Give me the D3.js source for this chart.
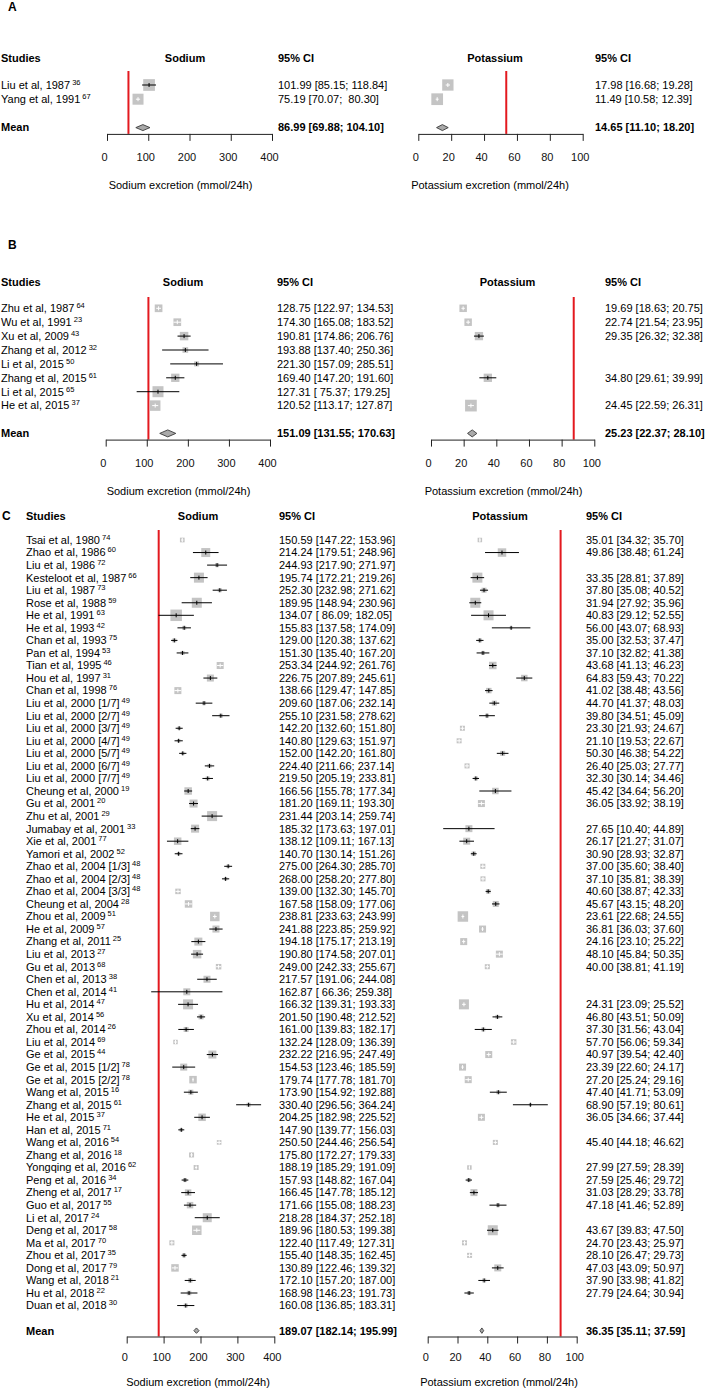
<!DOCTYPE html>
<html><head><meta charset="utf-8">
<script src="https://cdn.jsdelivr.net/npm/d3@7"></script>
<style>
html,body{margin:0;padding:0;background:#fff;}
svg text{font-family:"Liberation Sans", Arial, sans-serif; white-space:pre;}
</style></head>
<body><svg id="chart" width="709" height="1389" xml:space="preserve"></svg>
<script>
// ---------------- DATA ----------------
const naTicks = [0, 100, 200, 300, 400];
const kTicks = [0, 20, 40, 60, 80, 100];

// Panel A
const studiesA = ["Liu et al, 1987", "Yang et al, 1991"];
const refsA = ["36", "67"];
const naMeanA = [101.99, 75.19];
const naLowA = [85.15, 70.07];
const naUpA = [118.84, 80.30];
const naWeightA = [137, 121];
const kMeanA = [17.98, 11.49];
const kLowA = [16.68, 10.58];
const kUpA = [19.28, 12.39];
const kWeightA = [128, 137];
const naPooledA = [86.99, 69.88, 104.10];
const kPooledA = [14.65, 11.10, 18.20];
const naRefA = 52, kRefA = 53.5;

// Panel B
const studiesB = ["Zhu et al, 1987", "Wu et al, 1991", "Xu et al, 2009", "Zhang et al, 2012",
  "Li et al, 2015", "Zhang et al, 2015", "Li et al, 2015", "He et al, 2015"];
const refsB = ["64", "23", "43", "32", "50", "61", "65", "37"];
const naMeanB = [128.75, 174.30, 190.81, 193.88, 221.30, 169.40, 127.31, 120.52];
const naLowB = [122.97, 165.08, 174.86, 137.40, 157.09, 147.20, 75.37, 113.17];
const naUpB = [134.53, 183.52, 206.76, 250.36, 285.51, 191.60, 179.25, 127.87];
const naWeightB = [59, 59, 72, 32, 25, 69, 121, 110];
const kMeanB = [19.69, 22.74, 29.35, null, null, 34.80, null, 24.45];
const kLowB = [18.63, 21.54, 26.32, null, null, 29.61, null, 22.59];
const kUpB = [20.75, 23.95, 32.38, null, null, 39.99, null, 26.31];
const kWeightB = [56, 56, 69, null, null, 69, null, 137];
const naPooledB = [151.09, 131.55, 170.63];
const kPooledB = [25.23, 22.37, 28.10];
const naRefB = 104, kRefB = 87.4;

// Panel C
const studiesC = ["Tsai et al, 1980","Zhao et al, 1986","Liu et al, 1986","Kesteloot et al, 1987","Liu et al, 1987",
  "Rose et al, 1988","He et al, 1991","He et al, 1993","Chan et al, 1993","Pan et al, 1994","Tian et al, 1995",
  "Hou et al, 1997","Chan et al, 1998","Liu et al, 2000 [1/7]","Liu et al, 2000 [2/7]","Liu et al, 2000 [3/7]",
  "Liu et al, 2000 [4/7]","Liu et al, 2000 [5/7]","Liu et al, 2000 [6/7]","Liu et al, 2000 [7/7]",
  "Cheung et al, 2000","Gu et al, 2001","Zhu et al, 2001","Jumabay et al, 2001","Xie et al, 2001",
  "Yamori et al, 2002","Zhao et al, 2004 [1/3]","Zhao et al, 2004 [2/3]","Zhao et al, 2004 [3/3]",
  "Cheung et al, 2004","Zhou et al, 2009","He et al, 2009","Zhang et al, 2011","Liu et al, 2013","Gu et al, 2013",
  "Chen et al, 2013","Chen et al, 2014","Hu et al, 2014","Xu et al, 2014","Zhou et al, 2014","Liu et al, 2014",
  "Ge et al, 2015","Ge et al, 2015 [1/2]","Ge et al, 2015 [2/2]","Wang et al, 2015","Zhang et al, 2015",
  "He et al, 2015","Han et al, 2015","Wang et al, 2016","Zhang et al, 2016","Yongqing et al, 2016",
  "Peng et al, 2016","Zheng et al, 2017","Guo et al, 2017","Li et al, 2017","Deng et al, 2017","Ma et al, 2017",
  "Zhou et al, 2017","Dong et al, 2017","Wang et al, 2018","Hu et al, 2018","Duan et al, 2018"];
const refsC = ["74","60","72","66","73","59","63","42","75","53","46","31","76","49","49","49","49","49","49","49",
  "19","20","29","33","77","52","48","48","48","28","51","57","25","27","68","38","41","47","56","26","69","44",
  "78","78","16","61","37","71","54","18","62","34","17","55","24","58","70","35","79","21","22","30"];
const naMeanC = [150.59,214.24,244.93,195.74,252.30,189.95,134.07,155.83,129.00,151.30,253.34,226.75,138.66,
  209.60,255.10,142.20,140.80,152.00,224.40,219.50,166.56,181.20,231.44,185.32,138.12,140.70,275.00,268.00,
  139.00,167.58,238.81,241.88,194.18,190.80,249.00,217.57,162.87,166.32,201.50,161.00,132.24,232.22,154.53,
  179.74,173.90,330.40,204.25,147.90,250.50,175.80,188.19,157.93,166.45,171.66,218.28,189.96,122.40,155.40,
  130.89,172.10,168.98,160.08];
const naLowC = [147.22,179.51,217.90,172.21,232.98,148.94,86.09,137.58,120.38,135.40,244.92,207.89,129.47,
  187.06,231.58,132.60,129.63,142.20,211.66,205.19,155.78,169.11,203.14,173.63,109.11,130.14,264.30,258.20,
  132.30,158.09,233.63,223.85,175.17,174.58,242.33,191.06,66.36,139.31,190.48,139.83,128.09,216.95,123.46,
  177.78,154.92,296.56,182.98,139.77,244.46,172.27,185.29,148.82,147.78,155.08,184.37,180.53,117.49,148.35,
  122.46,157.20,146.23,136.85];
const naUpC = [153.96,248.96,271.97,219.26,271.62,230.96,182.05,174.09,137.62,167.20,261.76,245.61,147.85,
  232.14,278.62,151.80,151.97,161.80,237.14,233.81,177.34,193.30,259.74,197.01,167.13,151.26,285.70,277.80,
  145.70,177.06,243.99,259.92,213.19,207.01,255.67,244.08,259.38,193.33,212.52,182.17,136.39,247.49,185.59,
  181.70,192.88,364.24,225.52,156.03,256.54,179.33,191.09,167.04,185.12,188.23,252.18,199.38,127.31,162.45,
  139.32,187.00,191.73,183.31];
const naWeightC = [22,81,16,100,16,100,132,16,16,16, 49,49,49,16,16,12,12,12,16,16,
  56,64,100,64,56,12,12,12,30,56, 90,49,64,72,30,49,49,100,25,25,
  20,64,49,56,25,16,56,12,21,25, 25,16,42,42,81,90,25,16,56,20, 20,16];
const kMeanC = [35.01,49.86,null,33.35,37.80,31.94,40.83,56.00,35.00,37.10,43.68,64.83,41.02,44.70,39.80,23.30,
  21.10,50.30,26.40,32.30,45.42,36.05,null,27.65,26.17,30.90,37.00,37.10,40.60,45.67,23.61,36.81,24.16,48.10,
  40.00,null,null,24.31,46.80,37.30,57.70,40.97,23.39,27.20,47.40,68.90,36.05,null,45.40,null,27.99,27.59,31.03,
  47.18,null,43.67,24.70,28.10,47.03,37.90,27.79,null];
const kLowC = [34.32,38.48,null,28.81,35.08,27.92,29.12,43.07,32.53,32.82,41.13,59.43,38.48,41.37,34.51,21.93,
  19.53,46.38,25.03,30.14,34.64,33.92,null,10.40,21.27,28.93,35.60,35.81,38.87,43.15,22.68,36.03,23.10,45.84,
  38.81,null,null,23.09,43.51,31.56,56.06,39.54,22.60,25.24,41.71,57.19,34.66,null,44.18,null,27.59,25.46,28.29,
  41.46,null,39.83,23.43,26.47,43.09,33.98,24.64,null];
const kUpC = [35.70,61.24,null,37.89,40.52,35.96,52.55,68.93,37.47,41.38,46.23,70.22,43.56,48.03,45.09,24.67,
  22.67,54.22,27.77,34.46,56.20,38.19,null,44.89,31.07,32.87,38.40,38.39,42.33,48.20,24.55,37.60,25.22,50.35,
  41.19,null,null,25.52,50.09,43.04,59.34,42.40,24.17,29.16,53.09,80.61,37.44,null,46.62,null,28.39,29.72,33.78,
  52.89,null,47.50,25.97,29.73,50.97,41.82,30.94,null];
const kWeightC = [20,72,null,100,25,100,100,9,16,16, 56,42,30,25,16,25,25,25,25,16,
  42,49,null,49,49,20,25,25,20,36, 110,49,49,49,25,null,null,100,16,16,
  30,49,49,49,16,9,49,null,25,null, 20,16,49,16,null,100,25,25,49,16, 16,null];
const naPooledC = [189.07, 182.14, 195.99];
const kPooledC = [36.35, 35.11, 37.59];
const naRefC = 86.7, kRefC = 89.2;

// ---------------- DRAWING ----------------
const FONT = 11;
const boxFill = "#c4c4c4";
const refColor = "#e3191f";
const svg = d3.select("#chart");
svg.append("rect").attr("width", 709).attr("height", 1389).attr("fill", "#fff");
const sideScale = d3.scaleSqrt().domain([0, 100]).range([0, 10]);
const f2 = v => v.toFixed(2);

function ciStrings(mean, low, up) {
  const lw = d3.max(low.filter(v => v != null), v => f2(v).length);
  const uw = d3.max(up.filter(v => v != null), v => f2(v).length);
  return mean.map((m, i) => m == null ? null :
    `${f2(m)} [${f2(low[i]).padStart(lw)}; ${f2(up[i]).padStart(uw)}]`);
}
const pooledString = p => `${f2(p[0])} [${f2(p[1])}; ${f2(p[2])}]`;

function drawPanel(c) {
  const g = svg.append("g");
  const n = c.studies.length;
  const y = d3.scaleLinear().domain([0, n + 1]).range([c.row0, c.row0 + (n + 1) * c.step]);
  const meanY = y(n + 1);
  const axisY = meanY + c.axisGap;
  const xNa = d3.scaleLinear().domain([0, 400]).range(c.naRange);
  const xK = d3.scaleLinear().domain([0, 100]).range(c.kRange);

  // panel letter
  g.append("text").attr("x", c.letterX).attr("y", c.letterY).attr("dy", "0.35em")
    .attr("font-size", 12).attr("font-weight", "bold").text(c.letter);

  // headers
  const heads = [
    {t: "Studies", x: c.studyX, a: "start"},
    {t: "Sodium", x: c.naHeadX, a: "middle"},
    {t: "95% CI", x: c.naCiX, a: "start"},
    {t: "Potassium", x: c.kHeadX, a: "middle"},
    {t: "95% CI", x: c.kCiX, a: "start"}];
  g.selectAll(".head").data(heads).join("text").attr("class", "head")
    .attr("x", d => d.x).attr("y", c.headY).attr("dy", "0.35em")
    .attr("text-anchor", d => d.a).attr("font-size", FONT).attr("font-weight", "bold").text(d => d.t);

  // reference lines
  [[xNa, c.naRef], [xK, c.kRef]].forEach(([sc, v]) => {
    g.append("line").attr("x1", sc(v)).attr("x2", sc(v)).attr("y1", c.refTop).attr("y2", axisY)
      .attr("stroke", refColor).attr("stroke-width", 2);
  });

  // study labels
  const lab = g.selectAll(".study").data(c.studies).join("text").attr("class", "study")
    .attr("x", c.studyX).attr("y", (d, i) => y(i)).attr("dy", "0.35em").attr("font-size", FONT);
  lab.append("tspan").text(d => d);
  lab.append("tspan").attr("dx", 2).attr("dy", -4).attr("font-size", 7.5).text((d, i) => c.refs[i]);

  // forest marks
  function forest(sc, mean, low, up, weight, ciX, pooled, halfH) {
    const rows = mean.map((m, i) => ({i, m, l: low[i], u: up[i], w: weight[i]})).filter(d => d.m != null);
    rows.forEach(d => {
      d.s = sideScale(d.w);
      d.col = (sc(d.u) - sc(d.l)) < d.s ? "#ffffff" : "#000000";
    });
    g.selectAll(null).data(rows).join("rect")
      .attr("x", d => sc(d.m) - d.s / 2).attr("y", d => y(d.i) - d.s / 2)
      .attr("width", d => d.s).attr("height", d => d.s).attr("fill", boxFill);
    g.selectAll(null).data(rows).join("line")
      .attr("x1", d => sc(d.l)).attr("x2", d => sc(d.u)).attr("y1", d => y(d.i)).attr("y2", d => y(d.i))
      .attr("stroke", d => d.col).attr("stroke-width", 1);
    g.selectAll(null).data(rows).join("line")
      .attr("x1", d => sc(d.m)).attr("x2", d => sc(d.m)).attr("y1", d => y(d.i) - 2).attr("y2", d => y(d.i) + 2)
      .attr("stroke", d => d.col).attr("stroke-width", 1);
    // CI text
    const strs = ciStrings(mean, low, up);
    g.selectAll(null).data(rows).join("text")
      .attr("x", ciX).attr("y", d => y(d.i)).attr("dy", "0.35em").attr("font-size", FONT)
      .text(d => strs[d.i]);
    // pooled diamond
    g.append("path")
      .attr("d", `M${sc(pooled[1])},${meanY}L${sc(pooled[0])},${meanY - halfH}L${sc(pooled[2])},${meanY}L${sc(pooled[0])},${meanY + halfH}Z`)
      .attr("fill", "#a9a9a9").attr("stroke", "#3a3a3a").attr("stroke-width", 0.9);
    g.append("text").attr("x", ciX).attr("y", meanY).attr("dy", "0.35em").attr("font-size", FONT)
      .attr("font-weight", "bold").text(pooledString(pooled));
  }
  forest(xNa, c.naMean, c.naLow, c.naUp, c.naWeight, c.naCiX, c.naPooled, c.halfH);
  forest(xK, c.kMean, c.kLow, c.kUp, c.kWeight, c.kCiX, c.kPooled, c.halfH);

  g.append("text").attr("x", c.studyX).attr("y", meanY).attr("dy", "0.35em").attr("font-size", FONT)
    .attr("font-weight", "bold").text("Mean");

  // axes
  [[xNa, naTicks], [xK, kTicks]].forEach(([sc, ticks]) => {
    const ax = g.append("g").attr("transform", `translate(0,${axisY})`)
      .call(d3.axisBottom(sc).tickValues(ticks).tickFormat(d3.format("d"))
        .tickSizeInner(7).tickSizeOuter(0).tickPadding(c.tickPad));
    ax.select(".domain").attr("stroke", "#222");
    ax.selectAll(".tick line").attr("stroke", "#222");
    ax.selectAll(".tick text").attr("font-size", FONT).attr("dx", c.tickDx)
      .attr("font-family", "Liberation Sans, Arial, sans-serif").attr("fill", "#111");
  });

  // axis titles
  g.append("text").attr("x", c.naTitleX).attr("y", c.titleY).attr("dy", "0.35em")
    .attr("text-anchor", "middle").attr("font-size", FONT).text("Sodium excretion (mmol/24h)");
  g.append("text").attr("x", c.kTitleX).attr("y", c.titleY).attr("dy", "0.35em")
    .attr("text-anchor", "middle").attr("font-size", FONT).text("Potassium excretion (mmol/24h)");
}

drawPanel({
  letter: "A", letterX: 8, letterY: 7, headY: 58, studyX: 1,
  naHeadX: 185, naCiX: 278, kHeadX: 495, kCiX: 595,
  row0: 85, step: 14.2, axisGap: 6.3, halfH: 3, tickPad: 12.2, tickDx: -3,
  naRange: [107, 272], kRange: [418.3, 582.7], refTop: 71,
  titleY: 185, naTitleX: 180.5, kTitleX: 490,
  studies: studiesA, refs: refsA,
  naMean: naMeanA, naLow: naLowA, naUp: naUpA, naWeight: naWeightA, naPooled: naPooledA, naRef: naRefA,
  kMean: kMeanA, kLow: kLowA, kUp: kUpA, kWeight: kWeightA, kPooled: kPooledA, kRef: kRefA
});
drawPanel({
  letter: "B", letterX: 8, letterY: 245, headY: 282, studyX: 1,
  naHeadX: 183, naCiX: 277, kHeadX: 507.5, kCiX: 605,
  row0: 308.3, step: 13.9, axisGap: 6.2, halfH: 3.5, tickPad: 12.5, tickDx: -3,
  naRange: [105.7, 270], kRange: [431, 594.3], refTop: 297,
  titleY: 491, naTitleX: 178.5, kTitleX: 503.5,
  studies: studiesB, refs: refsB,
  naMean: naMeanB, naLow: naLowB, naUp: naUpB, naWeight: naWeightB, naPooled: naPooledB, naRef: naRefB,
  kMean: kMeanB, kLow: kLowB, kUp: kUpB, kWeight: kWeightB, kPooled: kPooledB, kRef: kRefB
});
drawPanel({
  letter: "C", letterX: 2, letterY: 516, headY: 516, studyX: 26,
  naHeadX: 198, naCiX: 279, kHeadX: 500, kCiX: 586,
  row0: 540, step: 12.55, axisGap: 5.85, halfH: 2.7, tickPad: 9.8, tickDx: -2.5,
  naRange: [126.7, 274.3], kRange: [427.7, 576.7], refTop: 530,
  titleY: 1381.7, naTitleX: 198, kTitleX: 499,
  studies: studiesC, refs: refsC,
  naMean: naMeanC, naLow: naLowC, naUp: naUpC, naWeight: naWeightC, naPooled: naPooledC, naRef: naRefC,
  kMean: kMeanC, kLow: kLowC, kUp: kUpC, kWeight: kWeightC, kPooled: kPooledC, kRef: kRefC
});
</script>
</body></html>
